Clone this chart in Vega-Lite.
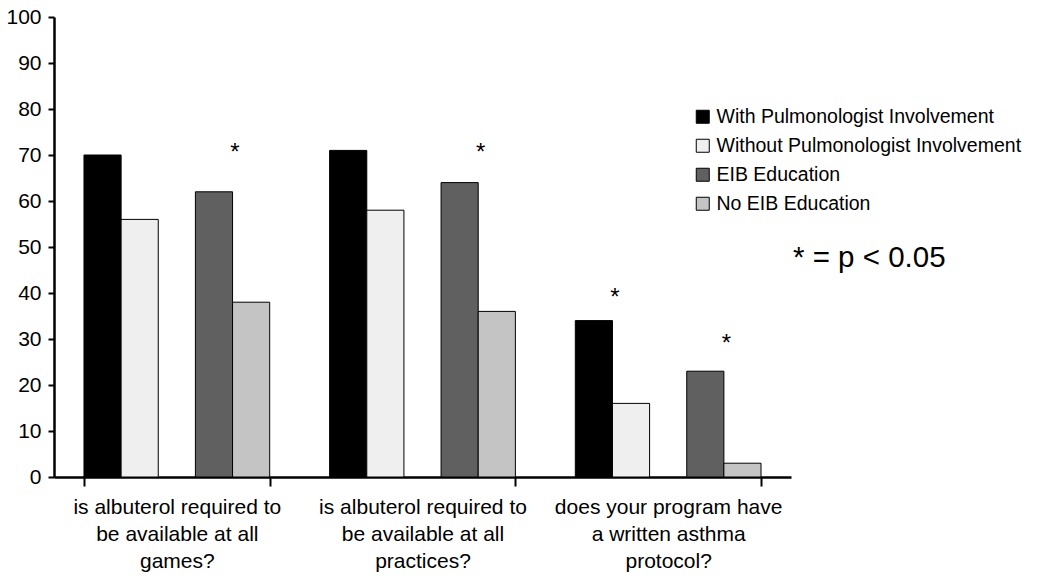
{
  "$schema": "https://vega.github.io/schema/vega-lite/v6.json",
  "width": 737,
  "height": 460,
  "autosize": "none",
  "padding": {"left": 54, "top": 17, "right": 259, "bottom": 102},
  "config": {
    "view": {"stroke": null},
    "font": "Liberation Sans",
    "legend": {
      "orient": "none",
      "legendX": 639,
      "legendY": 90,
      "symbolType": "square",
      "symbolSize": 169,
      "symbolStrokeColor": "black",
      "symbolStrokeWidth": 1,
      "symbolOpacity": 1,
      "labelFontSize": 19.5,
      "labelFont": "Liberation Sans",
      "labelColor": "black",
      "rowPadding": 8,
      "labelOffset": 4,
      "labelLimit": 400
    }
  },
  "title": {
    "text": "* = p < 0.05",
    "anchor": "start",
    "frame": "group",
    "offset": 0,
    "baseline": "middle",
    "dx": 739,
    "dy": 281,
    "fontSize": 29.5,
    "fontWeight": "normal",
    "color": "black",
    "font": "Liberation Sans"
  },
  "datasets": {
    "bars": [
      {"question": "is albuterol required to|be available at all|games?", "series": "With Pulmonologist Involvement", "value": 70},
      {"question": "is albuterol required to|be available at all|games?", "series": "Without Pulmonologist Involvement", "value": 56},
      {"question": "is albuterol required to|be available at all|games?", "series": "EIB Education", "value": 62},
      {"question": "is albuterol required to|be available at all|games?", "series": "No EIB Education", "value": 38},
      {"question": "is albuterol required to|be available at all|practices?", "series": "With Pulmonologist Involvement", "value": 71},
      {"question": "is albuterol required to|be available at all|practices?", "series": "Without Pulmonologist Involvement", "value": 58},
      {"question": "is albuterol required to|be available at all|practices?", "series": "EIB Education", "value": 64},
      {"question": "is albuterol required to|be available at all|practices?", "series": "No EIB Education", "value": 36},
      {"question": "does your program have|a  written asthma|protocol?", "series": "With Pulmonologist Involvement", "value": 34},
      {"question": "does your program have|a  written asthma|protocol?", "series": "Without Pulmonologist Involvement", "value": 16},
      {"question": "does your program have|a  written asthma|protocol?", "series": "EIB Education", "value": 23},
      {"question": "does your program have|a  written asthma|protocol?", "series": "No EIB Education", "value": 3}
    ],
    "stars": [
      {"question": "is albuterol required to|be available at all|games?", "series": "EIB Education", "value": 71.5},
      {"question": "is albuterol required to|be available at all|practices?", "series": "EIB Education", "value": 71.5},
      {"question": "does your program have|a  written asthma|protocol?", "series": "With Pulmonologist Involvement", "value": 40},
      {"question": "does your program have|a  written asthma|protocol?", "series": "EIB Education", "value": 30}
    ]
  },
  "encoding": {
    "x": {
      "field": "question",
      "type": "nominal",
      "sort": null,
      "scale": {"paddingInner": 0.244, "paddingOuter": 0.122},
      "axis": {
        "title": null,
        "labelAngle": 0,
        "labelExpr": "split(datum.label, '|')",
        "labelFontSize": 21,
        "labelLineHeight": 27,
        "labelColor": "black",
        "labelLimit": 400,
        "labelBaseline": "top",
        "domainColor": "black",
        "domainWidth": 2.5,
        "tickColor": "black",
        "tickWidth": 2,
        "tickSize": 9,
        "tickBand": "extent",
        "labelPadding": 10
      }
    },
    "xOffset": {
      "field": "series",
      "type": "nominal",
      "scale": {
        "domain": ["With Pulmonologist Involvement", "Without Pulmonologist Involvement", "gap", "EIB Education", "No EIB Education"],
        "paddingInner": 0,
        "paddingOuter": 0
      }
    },
    "y": {
      "field": "value",
      "type": "quantitative",
      "scale": {"domain": [0, 100], "nice": false},
      "axis": {
        "title": null,
        "values": [0, 10, 20, 30, 40, 50, 60, 70, 80, 90, 100],
        "grid": false,
        "labelFontSize": 21,
        "labelColor": "black",
        "domainColor": "black",
        "domainWidth": 2.5,
        "tickColor": "black",
        "tickWidth": 2,
        "tickSize": 6,
        "labelPadding": 7
      }
    }
  },
  "layer": [
    {
      "data": {"name": "bars"},
      "mark": {"type": "bar", "stroke": "black", "strokeWidth": 1},
      "encoding": {
        "color": {
          "field": "series",
          "type": "nominal",
          "scale": {
            "domain": ["With Pulmonologist Involvement", "Without Pulmonologist Involvement", "EIB Education", "No EIB Education"],
            "range": ["#000000", "#efefef", "#606060", "#c4c4c4"]
          },
          "legend": {"title": null}
        }
      }
    },
    {
      "data": {"name": "stars"},
      "mark": {"type": "text", "text": "*", "fontSize": 24, "dx": 21, "dy": 12, "baseline": "alphabetic", "color": "black"},
      "encoding": {}
    }
  ]
}
